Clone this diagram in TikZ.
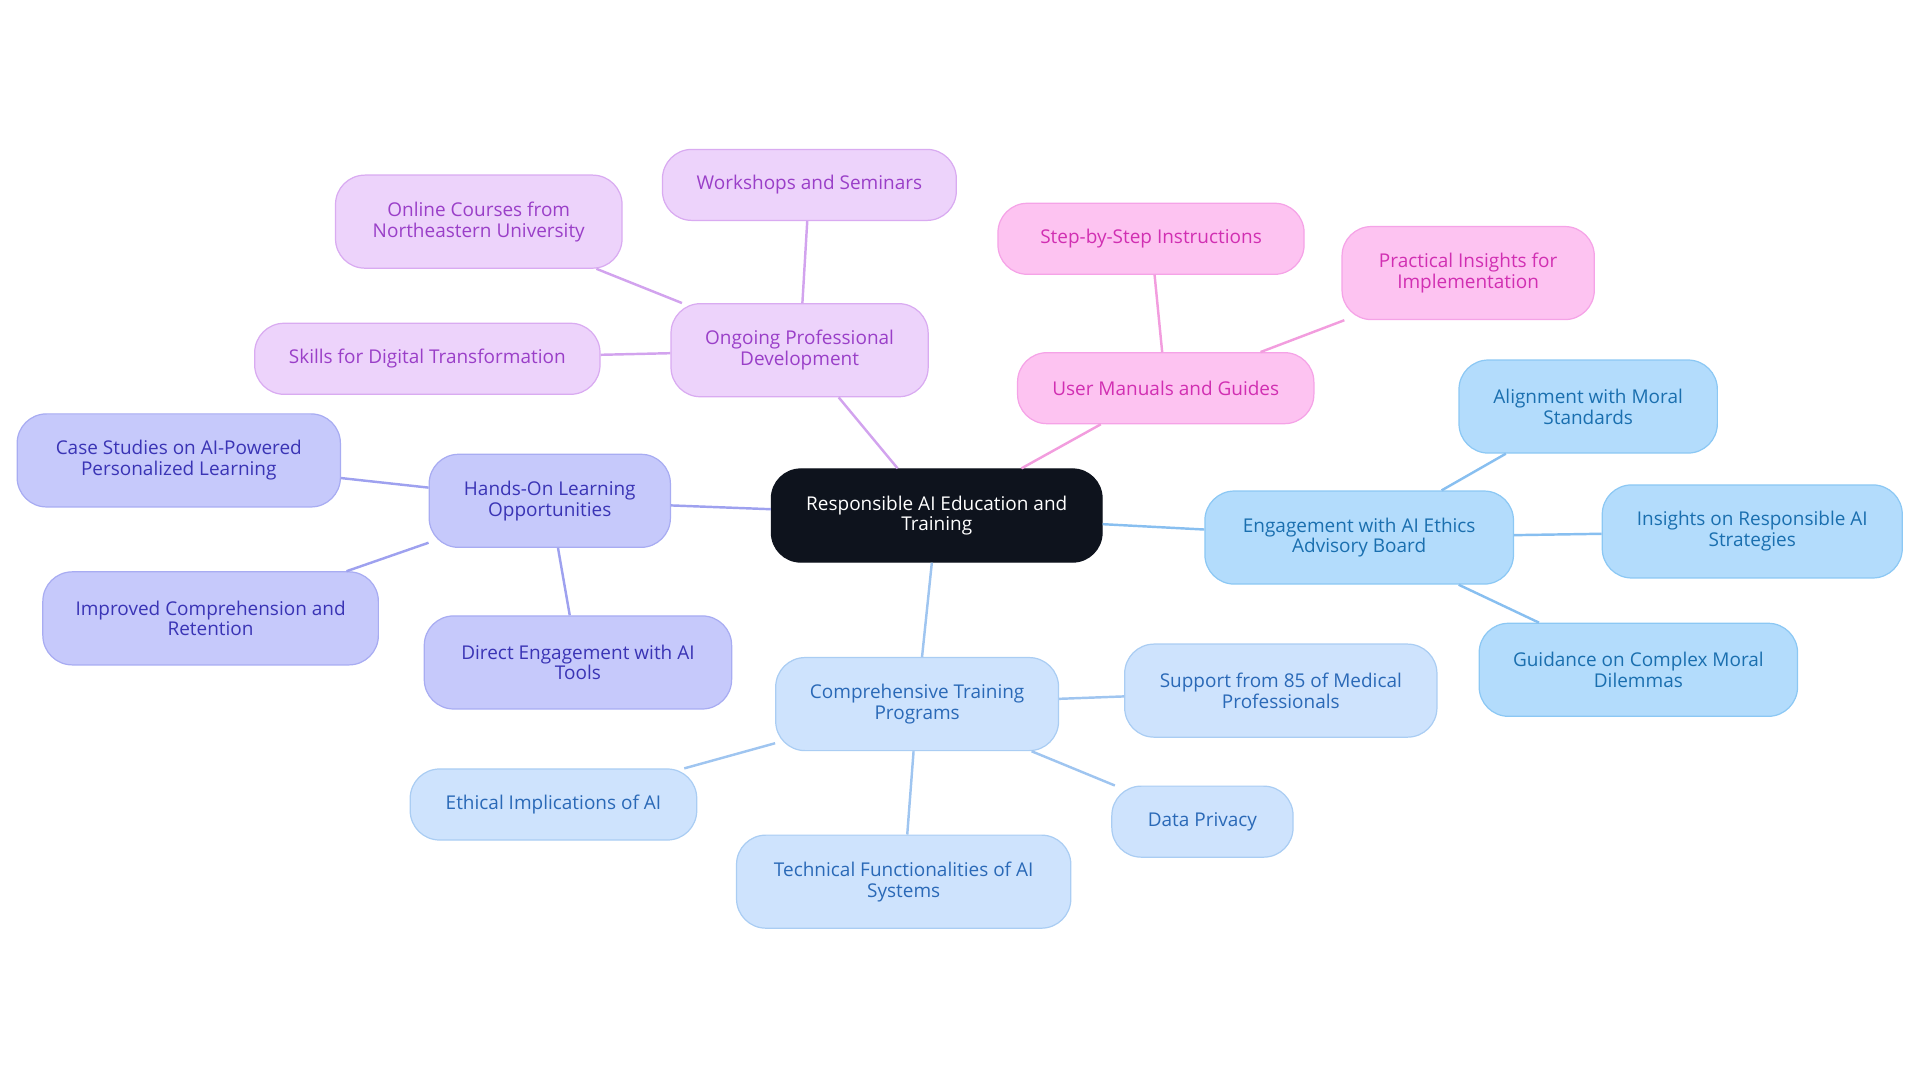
\documentclass[tikz,border=0pt]{standalone}
\usepackage{fontspec}
\setmainfont{Open Sans}
\definecolor{pf}{HTML}{EDD3FB}\definecolor{pd}{HTML}{D9ABF1}\definecolor{pt}{HTML}{9A3FC8}
\definecolor{kf}{HTML}{FDC3F1}\definecolor{kd}{HTML}{F5A3E7}\definecolor{kt}{HTML}{D12FB2}
\definecolor{if}{HTML}{C6C9FB}\definecolor{id}{HTML}{A8ACF2}\definecolor{it}{HTML}{3A34B5}
\definecolor{bf}{HTML}{B3DCFC}\definecolor{bd}{HTML}{8CC8F4}\definecolor{bt}{HTML}{1A6FAF}
\definecolor{lf}{HTML}{CEE3FD}\definecolor{ld}{HTML}{AACDF3}\definecolor{lt}{HTML}{2A69B7}
\definecolor{rootc}{HTML}{0E131D}
\definecolor{pe}{HTML}{D2A3EE}\definecolor{ke}{HTML}{F29DDE}\definecolor{ie}{HTML}{9EA1EF}
\definecolor{be}{HTML}{88BFF0}\definecolor{le}{HTML}{9FC5F0}
\tikzset{
 box/.style={draw,rounded corners=24pt,line width=1pt,align=center,font=\fontsize{15.5}{17}\selectfont,inner sep=0pt},
 pbox/.style={box,fill=pf,draw=pd,text=pt},
 kbox/.style={box,fill=kf,draw=kd,text=kt},
 ibox/.style={box,fill=if,draw=id,text=it},
 bbox/.style={box,fill=bf,draw=bd,text=bt},
 lbox/.style={box,fill=lf,draw=ld,text=lt},
 edge/.style={line width=2pt},
}
\begin{document}
\begin{tikzpicture}[x=1pt,y=-1pt]
\useasboundingbox (0,0) rectangle (1568,884);
\node[box,fill=rootc,draw=rootc,text=white,minimum width=270pt,minimum height=76pt] (root) at (765,421) {Responsible AI Education and\\Training};
\node[pbox,minimum width=210pt,minimum height=76pt] (opd) at (653,286) {Ongoing Professional\\Development};
\node[pbox,minimum width=240pt,minimum height=58pt] (ws) at (661,151) {Workshops and Seminars};
\node[pbox,minimum width=234pt,minimum height=76pt] (oc) at (391,181) {Online Courses from\\Northeastern University};
\node[pbox,minimum width=282pt,minimum height=58pt] (sk) at (349,293) {Skills for Digital Transformation};
\node[kbox,minimum width=242pt,minimum height=58pt] (um) at (952,317) {User Manuals and Guides};
\node[kbox,minimum width=250pt,minimum height=58pt] (ss) at (940,195) {Step-by-Step Instructions};
\node[kbox,minimum width=206pt,minimum height=76pt] (pi) at (1199,223) {Practical Insights for\\Implementation};
\node[ibox,minimum width=197pt,minimum height=76pt] (ho) at (449,409) {Hands-On Learning\\Opportunities};
\node[ibox,minimum width=264pt,minimum height=76pt] (cs) at (146,376) {Case Studies on AI-Powered\\Personalized Learning};
\node[ibox,minimum width=274pt,minimum height=76pt] (ic) at (172,505) {Improved Comprehension and\\Retention};
\node[ibox,minimum width=251pt,minimum height=76pt] (de) at (472,541) {Direct Engagement with AI\\Tools};
\node[bbox,minimum width=252pt,minimum height=76pt] (en) at (1110,439) {Engagement with AI Ethics\\Advisory Board};
\node[bbox,minimum width=211pt,minimum height=76pt] (al) at (1297,332) {Alignment with Moral\\Standards};
\node[bbox,minimum width=245pt,minimum height=76pt] (in) at (1431,434) {Insights on Responsible AI\\Strategies};
\node[bbox,minimum width=260pt,minimum height=76pt] (gu) at (1338,547) {Guidance on Complex Moral\\Dilemmas};
\node[lbox,minimum width=231pt,minimum height=76pt] (ct) at (749,575) {Comprehensive Training\\Programs};
\node[lbox,minimum width=255pt,minimum height=76pt] (su) at (1046,564) {Support from 85 of Medical\\Professionals};
\node[lbox,minimum width=234pt,minimum height=58pt] (et) at (452,657) {Ethical Implications of AI};
\node[lbox,minimum width=273pt,minimum height=76pt] (te) at (738,720) {Technical Functionalities of AI\\Systems};
\node[lbox,minimum width=148pt,minimum height=58pt] (dp) at (982,671) {Data Privacy};
\draw[edge,pe] (root) -- (opd); \draw[edge,pe] (opd) -- (ws); \draw[edge,pe] (opd) -- (oc); \draw[edge,pe] (opd) -- (sk);
\draw[edge,ke] (root) -- (um); \draw[edge,ke] (um) -- (ss); \draw[edge,ke] (um) -- (pi);
\draw[edge,ie] (root) -- (ho); \draw[edge,ie] (ho) -- (cs); \draw[edge,ie] (ho) -- (ic); \draw[edge,ie] (ho) -- (de);
\draw[edge,be] (root) -- (en); \draw[edge,be] (en) -- (al); \draw[edge,be] (en) -- (in); \draw[edge,be] (en) -- (gu);
\draw[edge,le] (root) -- (ct); \draw[edge,le] (ct) -- (su); \draw[edge,le] (ct) -- (et); \draw[edge,le] (ct) -- (te); \draw[edge,le] (ct) -- (dp);
\end{tikzpicture}
\end{document}
